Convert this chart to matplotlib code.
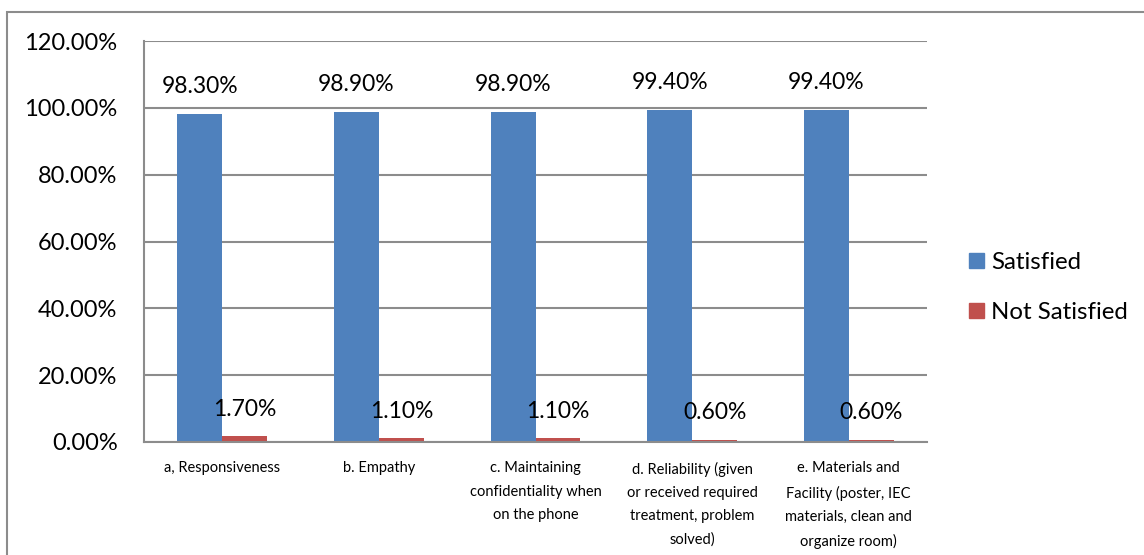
import matplotlib
matplotlib.use("Agg")
import matplotlib.pyplot as plt
from matplotlib.patches import Rectangle, Patch
import numpy as np

plt.rcParams['font.family'] = ['Lato', 'DejaVu Sans']

categories = [
    "a, Responsiveness",
    "b. Empathy",
    "c. Maintaining\nconfidentiality when\non the phone",
    "d. Reliability (given\nor received required\ntreatment, problem\nsolved)",
    "e. Materials and\nFacility (poster, IEC\nmaterials, clean and\norganize room)",
]
satisfied = [98.3, 98.9, 98.9, 99.4, 99.4]
not_satisfied = [1.7, 1.1, 1.1, 0.6, 0.6]
series_names = ["Satisfied", "Not Satisfied"]
y_ticks = [0, 20, 40, 60, 80, 100, 120]

BLUE = "#4F81BD"
RED = "#C0504D"
GRID = "#8C8C8C"

W, H = 1144, 555
fig = plt.figure(figsize=(W / 100, H / 100), dpi=100)

# outer chart frame (continues past the right and bottom edges)
fig.patches.append(Rectangle((7 / W, -0.1), 1.2, 1 - 12 / H + 0.1,
                             transform=fig.transFigure, fill=False,
                             edgecolor=GRID, linewidth=1.5))

ax = fig.add_axes([144 / W, 1 - 442 / H, (927 - 144) / W, (442 - 41) / H])

x = np.arange(len(categories))
bw = 0.287
b1 = ax.bar(x - bw / 2, satisfied, bw, color=BLUE, label=series_names[0])
b2 = ax.bar(x + bw / 2, not_satisfied, bw, color=RED, label=series_names[1])

for bars, vals in ((b1, satisfied), (b2, not_satisfied)):
    for rect, v in zip(bars, vals):
        ax.annotate(f"{v:.2f}%", (rect.get_x() + rect.get_width() / 2, v),
                    xytext=(0, 19.5), textcoords="offset points",
                    ha="center", va="center", fontsize=16.5, color="black")

ax.set_xlim(-0.5, len(categories) - 0.5)
ax.set_ylim(0, 120)
ax.set_yticks(y_ticks)
ax.set_yticklabels([f"{t:.2f}%" for t in y_ticks], fontsize=17)
ax.yaxis.grid(True, color=GRID, linewidth=1.5)
ax.set_axisbelow(True)
ax.set_xticks(x)
ax.set_xticklabels(categories, fontsize=10.5, linespacing=1.84, va="top")
ax.tick_params(axis="x", length=0, pad=14)
ax.tick_params(axis="y", length=0, pad=19)

for side in ("top", "right"):
    ax.spines[side].set_visible(False)
for side in ("left", "bottom"):
    ax.spines[side].set_color(GRID)
    ax.spines[side].set_linewidth(1.5)

handles = [Patch(color=BLUE), Patch(color=RED)]
fig.legend(handles, series_names, loc="center left",
           bbox_to_anchor=(969 / W, 1 - 287.5 / H), frameon=False,
           fontsize=17.3, handlelength=0.63, handleheight=0.63,
           handletextpad=0.28, labelspacing=1.2, borderpad=0, borderaxespad=0)

fig.savefig("out.png", dpi=100)
